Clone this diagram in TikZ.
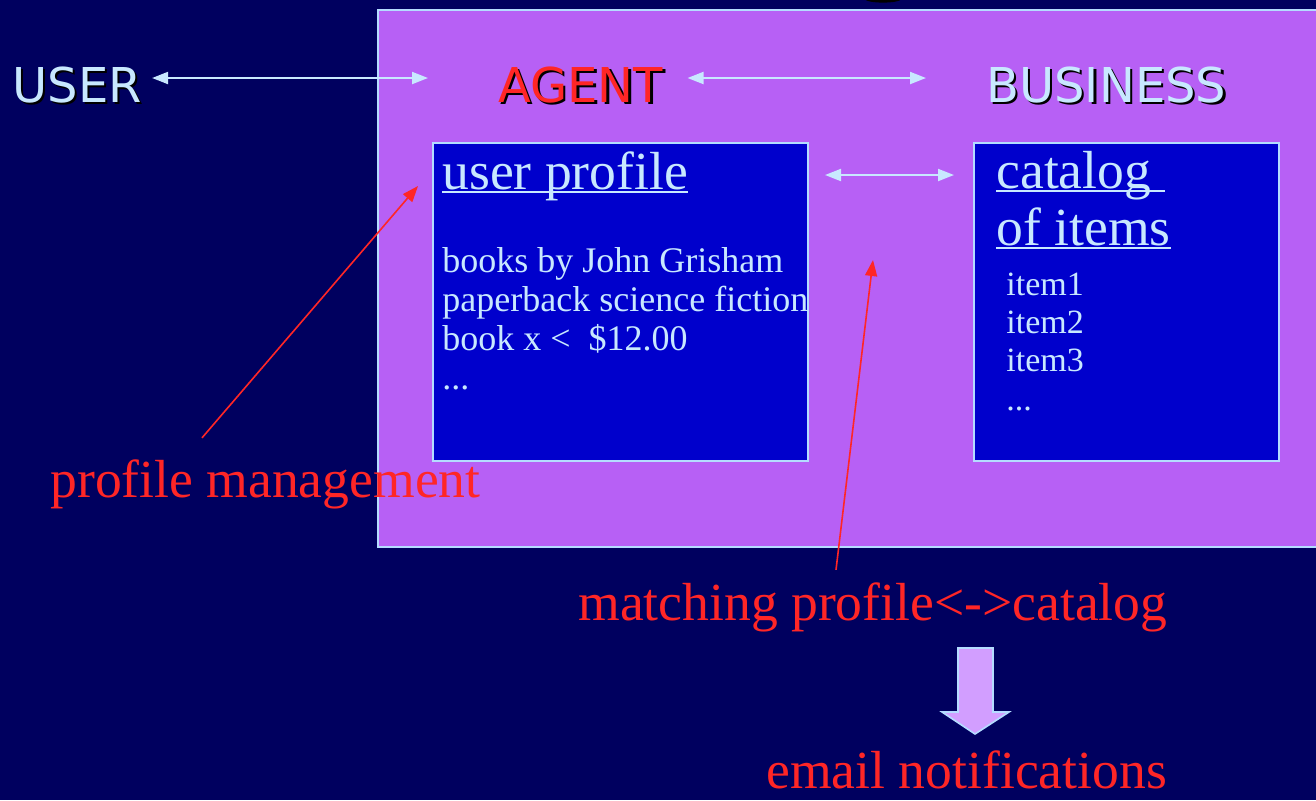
\documentclass[tikz,border=0pt]{standalone}
\usepackage{fontspec}
\setmainfont{Liberation Serif}
\newfontfamily\labsans{DejaVu Sans}
\usetikzlibrary{arrows.meta}
\definecolor{bgnavy}{HTML}{00005F}
\definecolor{agentpurple}{HTML}{B760F5}
\definecolor{boxblue}{HTML}{0000CC}
\definecolor{paleblue}{HTML}{C8E8FF}
\definecolor{edgeblue}{HTML}{B4DCFF}
\definecolor{labred}{HTML}{FF2626}
\definecolor{lavender}{HTML}{D29EFF}
\newcommand\shadowed[2]{\makebox[0pt][l]{\hspace{1.2pt}\raisebox{-1.2pt}{\textcolor{black}{#2}}}\textcolor{#1}{#2}}
\newcommand\ulined[1]{\setbox0\hbox{#1}\rlap{\rule[-2.2pt]{\wd0}{1pt}}\box0}
\begin{document}
\begin{tikzpicture}[x=0.5pt,y=-0.5pt,
  lab/.style={inner sep=0pt, anchor=base west},
  sanslab/.style={lab, font=\labsans\fontsize{24}{28}\selectfont},
  redlab/.style={lab, text=labred, font=\fontsize{26.8}{30}\selectfont},
  head/.style={lab, text=paleblue, font=\fontsize{26.8}{30}\selectfont},
  bodytxt/.style={lab, text=paleblue, font=\fontsize{18}{20}\selectfont},
  itemtxt/.style={lab, text=paleblue, font=\fontsize{17}{20}\selectfont},
  zonebox/.style={draw=edgeblue, fill=agentpurple, line width=1.2pt, inner sep=0pt, anchor=north west},
  panel/.style={draw=edgeblue, line width=1pt, fill=boxblue, minimum width=187.5pt, minimum height=159pt, inner sep=0pt, anchor=north west},
  duplex/.style={draw=paleblue, line width=1pt, {Triangle[length=8pt,width=6pt]}-{Triangle[length=8pt,width=6pt]}},
  pointer/.style={draw=labred, line width=0.8pt, -{Triangle[length=8pt,width=6pt]}},
  blockarrow/.style={draw=edgeblue, fill=lavender, line width=0.8pt}
]
\useasboundingbox (0,0) rectangle (1316,800);
\fill[bgnavy] (0,0) rectangle (1316,800);
\fill[black] (883,-1) ellipse [x radius=9pt, y radius=1.8pt];

\node[zonebox, minimum width=481.5pt, minimum height=268.5pt] (zone) at (377,9) {};

\node[sanslab] (user) at (12,102) {\shadowed{paleblue}{USER}};
\node[sanslab] (agent) at (498,102) {\shadowed{labred}{AGENT}};
\node[sanslab] (business) at (986,102) {\shadowed{paleblue}{BUSINESS}};

\draw[duplex] ([xshift=5pt,yshift=12pt]user.base east) -- ([xshift=-35pt,yshift=12pt]agent.base west);
\draw[duplex] ([xshift=12pt,yshift=12pt]agent.base east) -- ([xshift=-30pt,yshift=12pt]business.base west);

\node[panel] (profile) at (432,142) {};
\node[panel, minimum width=152.5pt] (catalog) at (973,142) {};
\draw[duplex] ([xshift=8pt,yshift=-16.5pt]profile.north east) -- ([xshift=-9.5pt,yshift=-16.5pt]catalog.north west);

\node[head] (profhead) at (442,189) {\ulined{user profile}};
\node[head] (cathead1) at (996,188) {\ulined{catalog\ }};
\node[head] (cathead2) at (996,245) {\ulined{of items}};

\node[bodytxt] (p1) at (442,272) {books by John Grisham};
\node[bodytxt] (p2) at (442,311) {paperback science fiction};
\node[bodytxt] (p3) at (442,350) {book x <~~\$12.00};
\node[bodytxt] (p4) at (442,389) {...};

\node[itemtxt] (i1) at (1006,295) {item1};
\node[itemtxt] (i2) at (1006,333) {item2};
\node[itemtxt] (i3) at (1006,371) {item3};
\node[itemtxt] (i4) at (1006,410) {...};

\node[redlab] (pm) at (50,497) {profile management};
\node[redlab] (match) at (578,620) {matching profile<->catalog};
\node[redlab] (email) at (766,788) {email notifications};

\coordinate (matchtip) at (873,260);
\draw[pointer] ([xshift=76pt,yshift=10.5pt]pm.north west) -- ([xshift=-7pt,yshift=-22pt]profile.north west);
\draw[pointer] ([xshift=129pt,yshift=6pt]match.north west) -- (matchtip);

\draw[blockarrow] (958,648) -- (993,648) -- (993,712) -- (1009,712) -- (975,734) -- (942,712) -- (958,712) -- cycle;
\end{tikzpicture}
\end{document}
